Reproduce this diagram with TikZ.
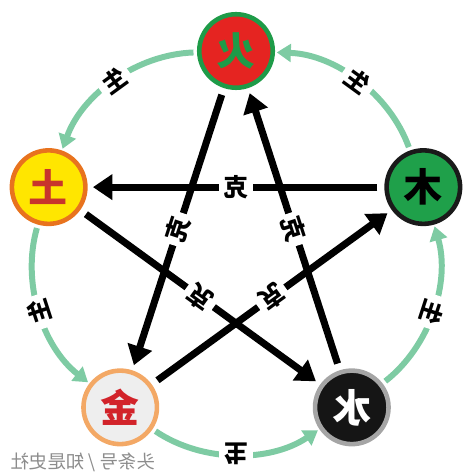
\documentclass[tikz,border=0pt]{standalone}
\usepackage{fontspec}
\usepackage{graphicx}
\usepackage{tikz}
\usetikzlibrary{arrows.meta}
\newfontfamily\cjk{Noto Sans CJK SC}

\definecolor{huored}{HTML}{E52421}
\definecolor{huogreen}{HTML}{1E9B48}
\definecolor{mugreen}{HTML}{1FA04A}
\definecolor{muborder}{HTML}{1A1A1A}
\definecolor{shuiblack}{HTML}{151515}
\definecolor{shuigray}{HTML}{A5A5A5}
\definecolor{jinfill}{HTML}{EEEEEE}
\definecolor{jinorange}{HTML}{F3A865}
\definecolor{jinred}{HTML}{D2232A}
\definecolor{tuyellow}{HTML}{FFE600}
\definecolor{tuorange}{HTML}{E8731E}
\definecolor{tured}{HTML}{C8342C}
\definecolor{shenggreen}{HTML}{7ECBA3}
\definecolor{markgray}{HTML}{8C8C8C}

\begin{document}
\begin{tikzpicture}
       \tikzstyle{every node}=[font=\cjk\bfseries]
       \tikzstyle{element}=[circle, minimum size=1.47cm, inner sep=0pt, line width=2.6pt,
                            font=\cjk\bfseries\fontsize{22}{22}\selectfont]
       \tikzstyle{ke}=[line width=4pt, -{Triangle[length=11pt, width=14pt]},
                       shorten <=4pt, shorten >=3pt]
       \tikzstyle{kelabel}=[fill=white, inner sep=2.5pt, font=\cjk\bfseries\fontsize{14}{14}\selectfont]
       \tikzstyle{sheng}=[shenggreen, line width=3.4pt, -{Triangle[length=8pt, width=10pt]},
                          shorten <=2pt, shorten >=1pt, bend right=34, looseness=0.92]
       \tikzstyle{shenglabel}=[fill=white, text=black, inner sep=3pt,
                               font=\cjk\bfseries\fontsize{13.5}{13.5}\selectfont]

   \useasboundingbox (-4.72,-4.52) rectangle (4.76,4.96);

% the five elements
   \node[element, fill=huored, draw=huogreen, text=huogreen] (huo) at (90:3.94) {\reflectbox{火}};
   \node[element, fill=mugreen, draw=muborder, text=black] (mu) at (18:3.94) {\reflectbox{木}};
   \node[element, fill=shuiblack, draw=shuigray, text=white] (shui) at (-54:3.94) {\reflectbox{水}};
   \node[element, fill=jinfill, draw=jinorange, text=jinred] (jin) at (234:3.94) {\reflectbox{金}};
   \node[element, fill=tuyellow, draw=tuorange, text=tured] (tu) at (162:3.94) {\reflectbox{土}};

% generating cycle (outer ring)
   \draw[sheng] (mu) to node[shenglabel, rotate=-36] {\reflectbox{生}} (huo);
   \draw[sheng] (huo) to node[shenglabel, rotate=36] {\reflectbox{生}} (tu);
   \draw[sheng] (tu) to node[shenglabel, rotate=108] {\reflectbox{生}} (jin);
   \draw[sheng] (jin) to node[shenglabel, rotate=180] {\reflectbox{生}} (shui);
   \draw[sheng] (shui) to node[shenglabel, rotate=-108] {\reflectbox{生}} (mu);

% overcoming cycle (inner star)
   \draw[ke] (mu) -- node[kelabel] {\reflectbox{克}} (tu);
   \draw[ke] (tu) -- node[kelabel, rotate=144] {\reflectbox{克}} (shui);
   \draw[ke] (shui) -- node[kelabel, rotate=-72] {\reflectbox{克}} (huo);
   \draw[ke] (huo) -- node[kelabel, rotate=72] {\reflectbox{克}} (jin);
   \draw[ke] (jin) -- node[kelabel, rotate=-144] {\reflectbox{克}} (mu);

% watermark
   \node[font=\cjk\fontsize{10.5}{10.5}\selectfont, text=markgray] (mark) at (-3.06,-4.28)
       {\reflectbox{头条号 / 知是史社}};

\end{tikzpicture}
\end{document}
